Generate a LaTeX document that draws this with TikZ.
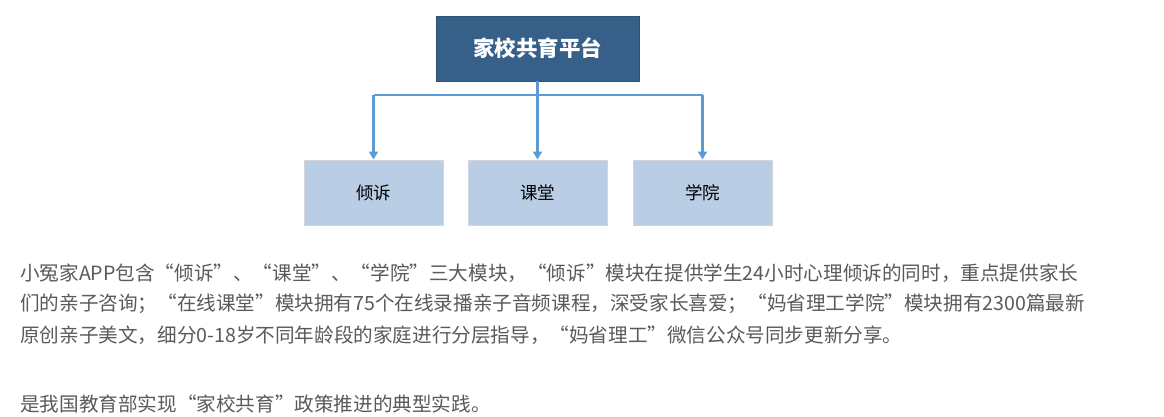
\documentclass[tikz,border=0pt]{standalone}
\usepackage{fontspec}
\setmainfont{Noto Sans CJK SC}
\newfontfamily\cjk{Noto Sans CJK SC}
\usetikzlibrary{arrows.meta}
\definecolor{topblue}{HTML}{376089}
\definecolor{childblue}{HTML}{B9CDE5}
\definecolor{childborder}{HTML}{D2D6DC}
\definecolor{linkblue}{HTML}{5B9BD5}
\definecolor{bodygray}{HTML}{5A5A5A}
\tikzset{
  topbox/.style={fill=topblue, draw=topblue!85!black, line width=0.6pt, minimum width=203pt, minimum height=65pt, inner sep=0pt, text=white, font=\cjk\bfseries\fontsize{21.5}{24}\selectfont},
  childbox/.style={fill=childblue, draw=childborder, line width=1pt, minimum width=139pt, minimum height=65pt, inner sep=0pt, text=black, font=\cjk\fontsize{17.5}{20}\selectfont},
  link/.style={draw=linkblue, line width=2.6pt},
  linkarrow/.style={link, -{Triangle[width=9pt,length=8pt]}},
  bodyline/.style={anchor=west, inner sep=0pt, text=bodygray, font=\cjk\fontsize{19.6}{22}\selectfont}
}
\begin{document}
\begin{tikzpicture}[x=1pt,y=-1pt]
\useasboundingbox[fill=white] (0,0) rectangle (1164,416);
\node[topbox] (top) at (537.5,48.5) {家校共育平台};
\node[childbox] (c1) at (373.5,192.5) {倾诉};
\node[childbox] (c2) at (537.5,192.5) {课堂};
\node[childbox] (c3) at (702.5,192.5) {学院};
\coordinate (j) at (537.5,95);
\coordinate (jl) at (373.5,95);
\coordinate (jr) at (702.5,95);
\draw[link] (top.south) -- (j);
\draw[link] (jl) -- (jr);
\draw[linkarrow] (jl) -- (c1.north);
\draw[linkarrow] (j) -- (c2.north);
\draw[linkarrow] (jr) -- (c3.north);
\node[bodyline] (l1) at (20,273) {小冤家APP包含“倾诉”、“课堂”、“学院”三大模块，“倾诉”模块在提供学生24小时心理倾诉的同时，重点提供家长};
\node[bodyline] (l2) at (20,304) {们的亲子咨询；“在线课堂”模块拥有75个在线录播亲子音频课程，深受家长喜爱；“妈省理工学院”模块拥有2300篇最新};
\node[bodyline] (l3) at (20,335) {原创亲子美文，细分0-18岁不同年龄段的家庭进行分层指导，“妈省理工”微信公众号同步更新分享。};
\node[bodyline] (l4) at (20,404) {是我国教育部实现“家校共育”政策推进的典型实践。};
\end{tikzpicture}
\end{document}
